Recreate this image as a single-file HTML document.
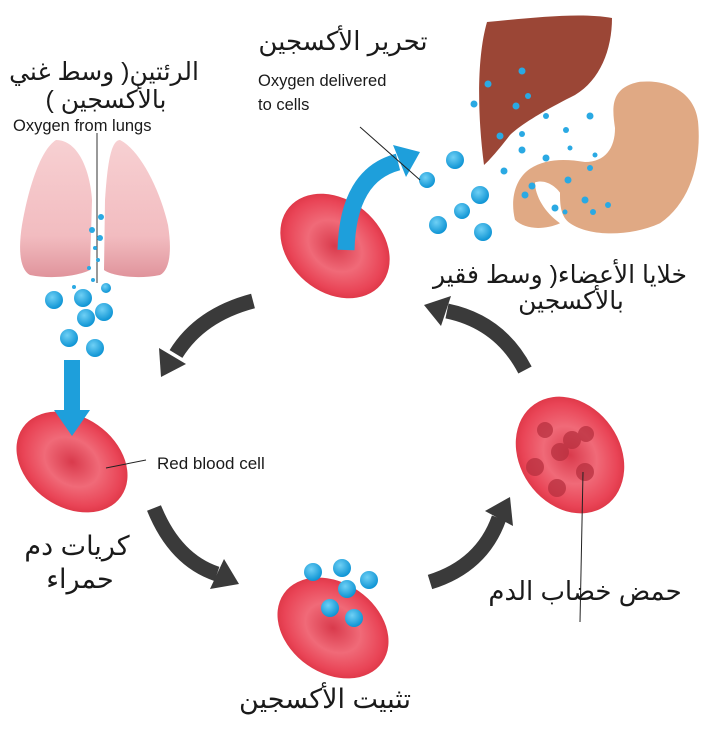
<!DOCTYPE html>
<html><head><meta charset="utf-8"><style>
html,body{margin:0;padding:0;background:#fff;}
svg{display:block;}
.ar{font-family:"Liberation Sans","Noto Sans CJK SC","DejaVu Sans",sans-serif;fill:#1a1a1a;}
.en{font-family:"Liberation Sans",sans-serif;fill:#1a1a1a;}
</style></head><body>
<svg width="709" height="745" viewBox="0 0 709 745" xmlns="http://www.w3.org/2000/svg">
<defs>
<radialGradient id="rbc" cx="50%" cy="50%" r="55%">
<stop offset="0" stop-color="#d93a4c"/><stop offset="0.45" stop-color="#f06a78"/><stop offset="0.8" stop-color="#e94456"/><stop offset="1" stop-color="#d8303f"/>
</radialGradient>
<radialGradient id="bub" cx="40%" cy="35%" r="65%"><stop offset="0" stop-color="#6fd0f5"/><stop offset="1" stop-color="#0e94d4"/></radialGradient>
<linearGradient id="lung" x1="0" y1="0" x2="0" y2="1"><stop offset="0" stop-color="#f7d0d2"/><stop offset="0.7" stop-color="#f2bcc0"/><stop offset="1" stop-color="#e0949c"/></linearGradient>
</defs>

<!-- lungs -->
<path d="M56,140 C40,150 28,190 22,225 C18,250 20,270 30,275 C55,280 80,275 90,270 L92,200 C90,170 78,140 56,140Z" fill="url(#lung)"/>
<path d="M120,140 C140,150 160,190 168,225 C172,250 170,270 160,275 C135,280 110,275 104,270 L105,200 C107,170 110,140 120,140Z" fill="url(#lung)"/>
<line x1="97" y1="133" x2="97" y2="283" stroke="#333" stroke-width="1"/>
<g fill="#2aa9e3">
<circle cx="101" cy="217" r="3"/><circle cx="92" cy="230" r="3"/><circle cx="100" cy="238" r="3"/><circle cx="95" cy="248" r="2"/><circle cx="98" cy="260" r="2"/><circle cx="89" cy="268" r="2"/><circle cx="93" cy="280" r="2"/><circle cx="74" cy="287" r="2"/>
</g>
<g fill="url(#bub)">
<circle cx="54" cy="300" r="9"/><circle cx="83" cy="298" r="9"/><circle cx="106" cy="288" r="5"/><circle cx="104" cy="312" r="9"/><circle cx="86" cy="318" r="9"/><circle cx="69" cy="338" r="9"/><circle cx="95" cy="348" r="9"/>
</g>
<rect x="64" y="360" width="16" height="52" fill="#1e9fdb"/>

<!-- RBC left -->
<ellipse cx="72" cy="462" rx="60" ry="45" transform="rotate(35 72 462)" fill="url(#rbc)"/>
<polygon points="54,410 90,410 72,436" fill="#1e9fdb"/>
<line x1="106" y1="468" x2="146" y2="460" stroke="#222" stroke-width="1"/>
<text x="157" y="469" class="en" font-size="17">Red blood cell</text>
<text x="77" y="555" class="ar" font-size="27" text-anchor="middle" direction="rtl">كريات دم</text>
<text x="80" y="588" class="ar" font-size="27" text-anchor="middle" direction="rtl">حمراء</text>

<!-- RBC bottom -->
<ellipse cx="333" cy="628" rx="60" ry="45" transform="rotate(35 333 628)" fill="url(#rbc)"/>
<g fill="url(#bub)">
<circle cx="313" cy="572" r="9"/><circle cx="342" cy="568" r="9"/><circle cx="369" cy="580" r="9"/><circle cx="347" cy="589" r="9"/><circle cx="330" cy="608" r="9"/><circle cx="354" cy="618" r="9"/>
</g>
<text x="325" y="708" class="ar" font-size="27" text-anchor="middle" direction="rtl">تثبيت الأكسجين</text>

<!-- RBC right -->
<ellipse cx="570" cy="455" rx="62" ry="50" transform="rotate(55 570 455)" fill="url(#rbc)"/>
<g fill="#b8303f" opacity="0.75">
<circle cx="535" cy="467" r="9"/><circle cx="560" cy="452" r="9"/><circle cx="557" cy="488" r="9"/><circle cx="585" cy="472" r="9"/><circle cx="572" cy="440" r="9"/><circle cx="545" cy="430" r="8"/><circle cx="586" cy="434" r="8"/>
</g>
<line x1="583" y1="472" x2="580" y2="622" stroke="#222" stroke-width="1"/>
<text x="585" y="600" class="ar" font-size="26" text-anchor="middle" direction="rtl">حمض خضاب الدم</text>

<!-- RBC top -->
<ellipse cx="335" cy="246" rx="60" ry="46" transform="rotate(40 335 246)" fill="url(#rbc)"/>
<path d="M346,250 Q348,175 398,162" fill="none" stroke="#1e9fdb" stroke-width="17"/>
<polygon points="420,152 406,177 393,145" fill="#1e9fdb"/>

<!-- dark cycle arrows -->
<g fill="none" stroke="#3a3a3a" stroke-width="15">
<path d="M253,301 Q200,315 176,354"/>
<path d="M525,370 Q500,322 447,311"/>
<path d="M154,508 Q175,560 217,574"/>
<path d="M430,582 Q482,566 499,518"/>
</g>
<g fill="#3a3a3a">
<polygon points="161,377 186,364 159,348"/>
<polygon points="424,305 451,296 441,326"/>
<polygon points="239,584 210,589 224,559"/>
<polygon points="510,497 513,526 485,511"/>
</g>

<!-- liver -->
<path d="M487,22 C530,18 580,12 612,18 C612,50 600,80 575,95 C545,110 520,125 510,135 C500,148 490,160 484,165 C478,120 476,60 487,22Z" fill="#9b4636"/>
<!-- stomach -->
<path transform="translate(0,26) scale(1,0.68)" d="M640,82 C670,78 695,100 698,140 C702,200 690,260 660,290 C630,310 590,310 570,290 C560,280 560,260 560,245 C555,235 545,225 535,230 C535,250 545,275 560,290 C545,300 525,300 515,285 C510,255 515,225 530,210 C545,195 565,195 585,200 C605,200 615,180 615,150 C612,120 610,90 640,82Z" fill="#e0a984"/>

<g fill="#2aa9e3">
<circle cx="522" cy="71" r="3.5"/><circle cx="488" cy="84" r="3.5"/><circle cx="516" cy="106" r="3.5"/><circle cx="528" cy="96" r="3"/><circle cx="474" cy="104" r="3.5"/><circle cx="500" cy="136" r="3.5"/><circle cx="522" cy="134" r="3"/><circle cx="546" cy="116" r="3"/><circle cx="590" cy="116" r="3.5"/><circle cx="566" cy="130" r="3"/><circle cx="522" cy="150" r="3.5"/><circle cx="546" cy="158" r="3.5"/><circle cx="504" cy="171" r="3.5"/><circle cx="532" cy="186" r="3.5"/><circle cx="568" cy="180" r="3.5"/><circle cx="590" cy="168" r="3"/><circle cx="585" cy="200" r="3.5"/><circle cx="555" cy="208" r="3.5"/><circle cx="525" cy="195" r="3.5"/><circle cx="608" cy="205" r="3"/><circle cx="595" cy="155" r="2.5"/><circle cx="570" cy="148" r="2.5"/><circle cx="565" cy="212" r="2.5"/><circle cx="593" cy="212" r="3"/>
</g>
<g fill="url(#bub)">
<circle cx="455" cy="160" r="9"/><circle cx="427" cy="180" r="8"/><circle cx="480" cy="195" r="9"/><circle cx="462" cy="211" r="8"/><circle cx="438" cy="225" r="9"/><circle cx="483" cy="232" r="9"/>
</g>

<!-- texts top -->
<text x="104" y="80" class="ar" font-size="25" text-anchor="middle" direction="rtl">الرئتين( وسط غني</text>
<text x="106" y="108" class="ar" font-size="25" text-anchor="middle" direction="rtl">بالأكسجين )</text>
<text x="13" y="131" class="en" font-size="16.5">Oxygen from lungs</text>

<text x="343" y="50" class="ar" font-size="26" text-anchor="middle" direction="rtl">تحرير الأكسجين</text>
<text x="258" y="86" class="en" font-size="16.5">Oxygen delivered</text>
<text x="258" y="110" class="en" font-size="16.5">to cells</text>
<line x1="360" y1="127" x2="420" y2="180" stroke="#222" stroke-width="1"/>

<text x="560" y="283" class="ar" font-size="25" text-anchor="middle" direction="rtl">خلايا الأعضاء( وسط  فقير</text>
<text x="571" y="309" class="ar" font-size="25" text-anchor="middle" direction="rtl">بالأكسجين</text>
</svg>
</body></html>
